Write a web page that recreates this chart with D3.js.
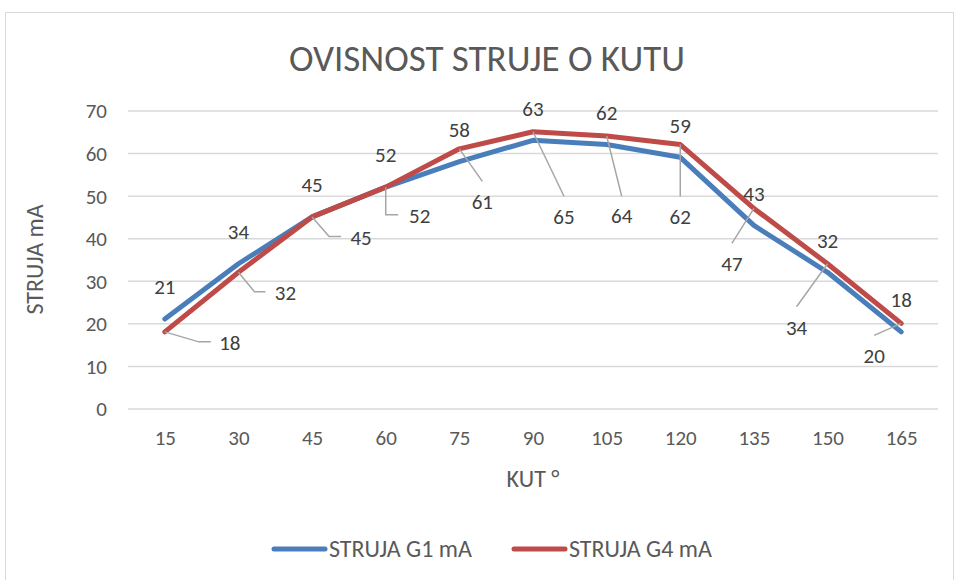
<!DOCTYPE html>
<html><head><meta charset="utf-8">
<script src="https://cdn.jsdelivr.net/npm/d3@7"></script>
<style>
html,body{margin:0;padding:0;background:#fff;}
svg{display:block;font-family:Carlito,Lato,"Open Sans",sans-serif;}
</style></head>
<body><svg id="c" width="955" height="580"></svg>
<script>
const categories = ["15","30","45","60","75","90","105","120","135","150","165"];
const g1Values = [21,34,45,52,58,63,62,59,43,32,18];
const g4Values = [18,32,45,52,61,65,64,62,47,34,20];
const yTicks = [0,10,20,30,40,50,60,70];
const seriesNames = ["STRUJA G1 mA","STRUJA G4 mA"];
const titleText = "OVISNOST STRUJE O KUTU";
const xTitle = "KUT °";
const yTitle = "STRUJA mA";

// layout for G4 callout labels: [elbowDx, elbowDy, endDx, endDy, labelDx, labelDy]
const g4Callouts = [
  [34,10,46,10,65,11],
  [16,19.5,27,19.5,47,20.5],
  [17,19.5,29,19.5,49,20.8],
  [0,27.5,12.5,27.5,34,29],
  [23,32.5,23,32.5,23,52.5],
  [31,64.5,31,64.5,31,85],
  [15,60,15,60,15,80],
  [0,52,0,52,0,72],
  [-22,35,-22,35,-22,55.5],
  [-31,43,-31,43,-31,64],
  [-27,12,-27,12,-27,32.5]
];

const svg = d3.select("#c");
const m = {left:128, right:938, top:110.5, bottom:408.5};
const colors = ["#4a7ebb", "#be4b48"];
const textCol = "#595959";
const labelCol = "#404040";

svg.append("rect").attr("x",5.5).attr("y",12.5).attr("width",948).attr("height",580)
  .attr("fill","#fff").attr("stroke","#d9d9d9").attr("stroke-width",1);

const x = d3.scalePoint().domain(categories).range([m.left, m.right]).padding(0.5);
const y = d3.scaleLinear().domain([0,70]).range([m.bottom, m.top]);

// gridlines + y ticks
const yAxis = d3.axisLeft(y).tickValues(yTicks).tickSize(-(m.right-m.left)).tickPadding(21);
const gy = svg.append("g").attr("transform",`translate(${m.left},0)`).call(yAxis);
gy.select(".domain").remove();
gy.selectAll("line").attr("stroke","#d9d9d9").attr("stroke-width",1.5);
gy.selectAll("text").attr("fill",textCol).attr("font-size",21).attr("font-family","Carlito,Lato,sans-serif").attr("dy","0.35em");

const xAxis = d3.axisBottom(x).tickSize(0).tickPadding(22);
const gx = svg.append("g").attr("transform",`translate(0,${m.bottom})`).call(xAxis);
gx.select(".domain").remove();
gx.selectAll("text").attr("fill",textCol).attr("font-size",21).attr("font-family","Carlito,Lato,sans-serif");

// titles
svg.append("text").attr("x",487).attr("y",71).attr("text-anchor","middle")
  .attr("font-size",37).attr("font-weight",300).attr("fill",textCol).text(titleText);
svg.append("text").attr("x",(m.left+m.right)/2).attr("y",487).attr("text-anchor","middle")
  .attr("font-size",24).attr("fill",textCol).text(xTitle);
svg.append("text").attr("transform",`translate(43,${(m.top+m.bottom)/2}) rotate(-90)`)
  .attr("text-anchor","middle").attr("font-size",24).attr("fill",textCol).text(yTitle);

// lines
const line = d3.line().x((d,i)=>x(categories[i])).y(d=>y(d));
[g1Values,g4Values].forEach((vals,si)=>{
  svg.append("path").datum(vals).attr("d",line).attr("fill","none")
    .attr("stroke",colors[si]).attr("stroke-width",5)
    .attr("stroke-linejoin","round").attr("stroke-linecap","round");
});

// G1 labels above
svg.append("g").selectAll("text").data(g1Values).join("text")
  .attr("x",(d,i)=>x(categories[i])).attr("y",d=>y(d)-32).attr("dy","0.35em")
  .attr("text-anchor","middle").attr("font-size",21).attr("fill",labelCol).text(d=>d);

// G4 callouts
const cg = svg.append("g");
g4Values.forEach((v,i)=>{
  const px = x(categories[i]), py = y(v);
  const c = g4Callouts[i];
  cg.append("path").attr("d",`M${px},${py}L${px+c[0]},${py+c[1]}L${px+c[2]},${py+c[3]}`)
    .attr("fill","none").attr("stroke","#a6a6a6").attr("stroke-width",1.5);
  cg.append("text").attr("x",px+c[4]).attr("y",py+c[5]).attr("dy","0.35em")
    .attr("text-anchor","middle").attr("font-size",21).attr("fill",labelCol).text(v);
});

// legend
const leg = [{x:272, name:seriesNames[0], c:colors[0]},{x:512, name:seriesNames[1], c:colors[1]}];
leg.forEach(l=>{
  svg.append("line").attr("x1",l.x+2).attr("x2",l.x+53).attr("y1",549).attr("y2",549)
    .attr("stroke",l.c).attr("stroke-width",5).attr("stroke-linecap","round");
  svg.append("text").attr("x",l.x+57).attr("y",549).attr("dy","0.35em")
    .attr("font-size",24).attr("fill",textCol).text(l.name);
});
</script></body></html>
